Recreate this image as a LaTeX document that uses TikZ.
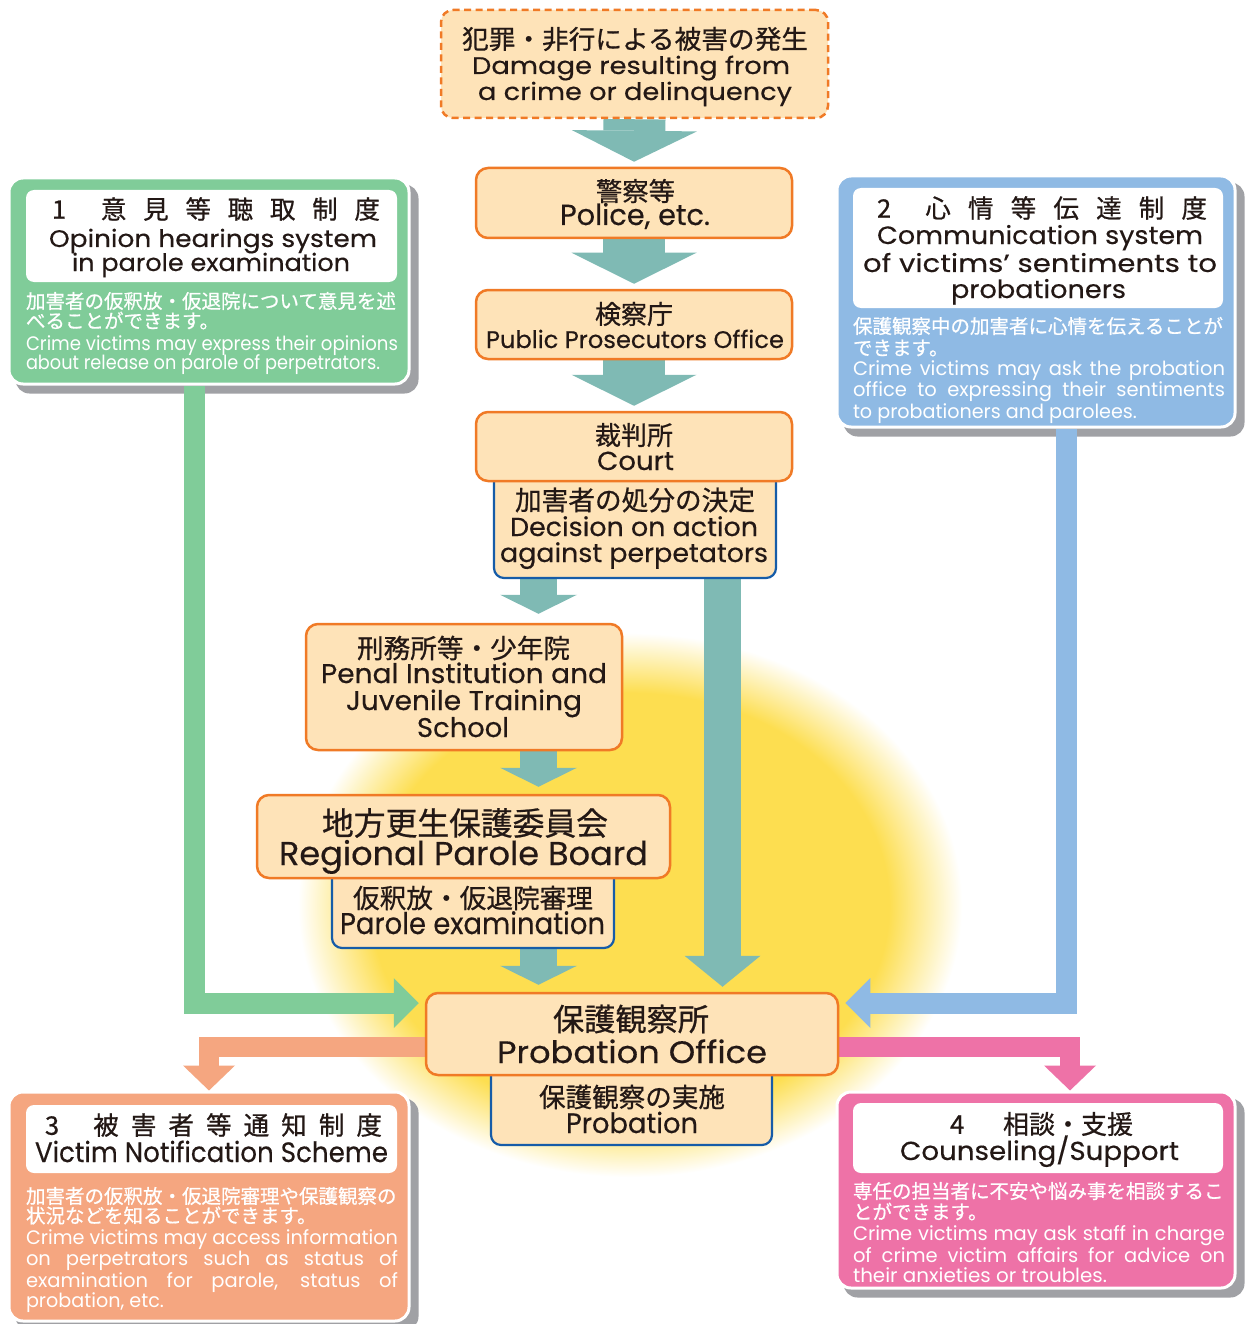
\documentclass[tikz,border=0pt]{standalone}
\usepackage{fontspec}
\usepackage{graphicx}
\setmainfont{Poppins}
\newfontfamily\latb{Poppins}[FakeBold=0.35]
\newfontfamily\jp{Noto Sans CJK JP}[FakeBold=0.7]
\usetikzlibrary{arrows.meta,calc}

\definecolor{peach}{RGB}{254,227,184}
\definecolor{orangeline}{RGB}{240,122,38}
\definecolor{blueline}{RGB}{22,92,168}
\definecolor{tealc}{RGB}{127,186,180}
\definecolor{greenc}{RGB}{128,204,153}
\definecolor{bluec}{RGB}{143,186,228}
\definecolor{salmonc}{RGB}{245,166,128}
\definecolor{pinkc}{RGB}{238,114,167}
\definecolor{shadowc}{RGB}{160,161,165}
\definecolor{ink}{RGB}{35,24,21}
\definecolor{glowc}{RGB}{253,222,80}

% soft yellow halo: the path boundary sits at 25bp of the shading
\pgfdeclareradialshading{glow}{\pgfpoint{0bp}{0bp}}{color(0bp)=(glowc); color(19.5bp)=(glowc); color(25bp)=(white); color(50bp)=(white)}

\pgfdeclarelayer{back}
\pgfdeclarelayer{arrowlayer}
\pgfsetlayers{back,arrowlayer,main}

% font size shortcut
\newcommand\fsz[1]{\fontsize{#1}{#1}\selectfont}
% set a line to an exact width by horizontal scaling
\newsavebox\fitbox
\newlength\fitlen
\newcommand\fitw[2]{\sbox\fitbox{#2}\setlength\fitlen{\wd\fitbox}\pgfmathsetmacro\fitratio{#1/\fitlen}\scalebox{\fitratio}[1]{\usebox\fitbox}}
% justified line: stretch spaces, or squeeze if too long
\newcommand\jline[2]{\sbox\fitbox{#2}\ifdim\wd\fitbox>#1pt\relax\fitw{#1}{#2}\else\makebox[#1pt][s]{#2}\fi}

\tikzset{
  lbl/.style={inner sep=0pt, outer sep=0pt, text=ink, font=\latb},
  wlbl/.style={inner sep=0pt, outer sep=0pt, text=white},
  flowbox/.style={draw=orangeline, fill=peach, line width=2.5pt, rounded corners=12pt, inner sep=0pt},
  subbox/.style={draw=blueline, fill=peach, line width=2.2pt, rounded corners=10pt, inner sep=0pt},
  sidebox/.style={draw=white, line width=3pt, rounded corners=14pt, inner sep=0pt},
  titlebox/.style={fill=white, rounded corners=8pt, inner sep=0pt},
  tealbig/.style={draw=tealc, line width=62pt, -{Triangle[width=125pt,length=31pt,line width=0pt]}},
  tealsmall/.style={draw=tealc, line width=37pt, -{Triangle[width=77pt,length=19pt,line width=0pt]}},
  teallong/.style={draw=tealc, line width=37pt, -{Triangle[width=76pt,length=31pt,line width=0pt]}},
  sidearrow/.style={line width=21pt, -{Triangle[width=50pt,length=25pt,line width=0pt]}},
  lowarrow/.style={line width=20pt, -{Triangle[width=52pt,length=25pt,line width=0pt]}}
}

\begin{document}
\begin{tikzpicture}[x=1pt,y=-1pt]
\useasboundingbox (0,0) rectangle (1245,1324);

% ---------- side boxes ----------
\node[sidebox, fill=greenc, minimum width=400pt, minimum height=206pt] (opinion) at (209,281) {};
\node[titlebox, minimum width=371pt, minimum height=92pt] (opinionT) at (211.5,236) {};
\node[sidebox, fill=bluec, minimum width=398pt, minimum height=251pt] (comm) at (1036,301.5) {};
\node[titlebox, minimum width=370pt, minimum height=120pt] (commT) at (1038,248) {};
\node[sidebox, fill=salmonc, minimum width=400pt, minimum height=229pt] (notify) at (209,1206.5) {};
\node[titlebox, minimum width=371pt, minimum height=68pt] (notifyT) at (211.5,1139) {};
\node[sidebox, fill=pinkc, minimum width=398pt, minimum height=196pt] (support) at (1036,1190) {};
\node[titlebox, minimum width=370pt, minimum height=70pt] (supportT) at (1038,1138) {};

% ---------- flow boxes ----------
\node[flowbox, dash pattern=on 7pt off 4.5pt, minimum width=387pt, minimum height=108pt] (origin) at (634.5,64) {};
\node[flowbox, minimum width=316pt, minimum height=70pt] (police) at (634,203) {};
\node[flowbox, minimum width=316pt, minimum height=69pt] (pros) at (634,324.5) {};
\node[subbox, minimum width=282pt, minimum height=113pt] (decision) at (635,521.5) {};
\node[flowbox, minimum width=316pt, minimum height=69pt] (court) at (634,446.5) {};
\node[flowbox, minimum width=316pt, minimum height=126pt] (penal) at (464,687) {};
\node[subbox, minimum width=282pt, minimum height=88pt] (parole) at (473,904) {};
\node[flowbox, minimum width=413pt, minimum height=83pt] (regional) at (463.5,836.5) {};
\node[subbox, minimum width=281pt, minimum height=85pt] (probsub) at (631.5,1102.5) {};
\node[flowbox, minimum width=412pt, minimum height=82pt] (office) at (632,1034) {};

% ---------- background glow and shadows ----------
\begin{pgfonlayer}{back}
  \fill[white] (0,0) rectangle (1245,1324);
  \path[shading=glow] (630,905) ellipse [x radius=332, y radius=272];
  \foreach \b in {opinion,comm,notify,support}
    \fill[shadowc, rounded corners=14pt] ($(\b.north west)+(8,8)$) rectangle ($(\b.south east)+(8,8)$);
\end{pgfonlayer}

% ---------- block arrows ----------
\begin{pgfonlayer}{arrowlayer}
  \draw[tealbig, shorten >=5pt] (origin.south) -- (police.north);
  \draw[tealbig, shorten >=5pt] (police.south) -- (pros.north);
  \draw[tealbig, shorten >=5pt] (pros.south) -- (court.north);

  \coordinate (dl) at ($(decision.south)+(-96.5,0)$);
  \draw[tealsmall, shorten >=9pt] (dl) -- (dl |- penal.north);
  \coordinate (pl) at ($(penal.south)+(74.5,0)$);
  \draw[tealsmall, shorten >=7pt] (pl) -- (pl |- regional.north);
  \coordinate (ql) at ($(parole.south)+(65.5,0)$);
  \draw[tealsmall, shorten >=7pt] (ql) -- (ql |- office.north);
  \coordinate (dr) at ($(decision.south)+(87.5,0)$);
  \draw[teallong, shorten >=5pt] (dr) -- (dr |- office.north);

  \coordinate (gs) at ($(opinion.south)+(-14.5,0)$);
  \coordinate (gt) at ($(office.west)+(0,-31)$);
  \draw[sidearrow, draw=greenc, shorten >=6pt] (gs) |- (gt);
  \coordinate (bs) at ($(comm.south)+(30,0)$);
  \coordinate (bt) at ($(office.east)+(0,-31)$);
  \draw[sidearrow, draw=bluec, shorten >=6pt] (bs) |- (bt);

  \coordinate (ss) at ($(office.west)+(20,13)$);
  \draw[lowarrow, draw=salmonc] (ss) -| (notify.north);
  \coordinate (ps) at ($(office.east)+(-20,13)$);
  \coordinate (pt) at ($(support.north)+(34,0)$);
  \draw[lowarrow, draw=pinkc] (ps) -| (pt);
\end{pgfonlayer}

% ---------- flow texts ----------
\node[lbl] (o1) at (635,39) {\fitw{346}{\jp\fsz{26}犯罪・非行による被害の発生}};
\node[lbl, anchor=base] (o2) at (631,74) {\fitw{318}{\fsz{24}Damage resulting from}};
\node[lbl, anchor=base] (o3) at (635,100) {\fitw{314}{\fsz{24}a crime or delinquency}};

\node[lbl] (p1) at (635.5,191) {\fitw{79}{\jp\fsz{26}警察等}};
\node[lbl, anchor=base] (p2) at (635,225) {\fitw{150}{\fsz{29}Police, etc.}};

\node[lbl] (q1) at (634,314) {\fitw{78}{\jp\fsz{26}検察庁}};
\node[lbl, anchor=base] (q2) at (635,348) {\fitw{298}{\fsz{24}Public Prosecutors Office}};

\node[lbl] (c1) at (634,435) {\fitw{78}{\jp\fsz{26}裁判所}};
\node[lbl, anchor=base] (c2) at (635.5,470) {\fitw{77}{\fsz{26}Court}};

\node[lbl] (d1) at (635,500) {\fitw{240}{\jp\fsz{27}加害者の処分の決定}};
\node[lbl, anchor=base] (d2) at (634,536) {\fitw{248}{\fsz{26}Decision on action}};
\node[lbl, anchor=base] (d3) at (634,562) {\fitw{268}{\fsz{26}against perpetators}};

\node[lbl] (e1) at (463.5,648) {\fitw{213}{\jp\fsz{26.5}刑務所等・少年院}};
\node[lbl, anchor=base] (e2) at (464,683) {\fitw{286}{\fsz{27}Penal Institution and}};
\node[lbl, anchor=base] (e3) at (464,710) {\fitw{236}{\fsz{27}Juvenile Training}};
\node[lbl, anchor=base] (e4) at (463,737) {\fitw{92}{\fsz{27}School}};

\node[lbl] (r1) at (465,823) {\fitw{286}{\jp\fsz{32}地方更生保護委員会}};
\node[lbl, anchor=base] (r2) at (463.5,865) {\fitw{369}{\fsz{33}Regional Parole Board}};

\node[lbl] (s1) at (473,898) {\fitw{240}{\jp\fsz{26.5}仮釈放・仮退院審理}};
\node[lbl, anchor=base] (s2) at (472.5,934) {\fitw{265}{\fsz{30}Parole examination}};

\node[lbl] (f1) at (631,1019) {\fitw{156}{\jp\fsz{31}保護観察所}};
\node[lbl, anchor=base] (f2) at (632,1063) {\fitw{270}{\fsz{31}Probation Office}};

\node[lbl] (u1) at (632,1097) {\fitw{186}{\jp\fsz{26.5}保護観察の実施}};
\node[lbl, anchor=base] (u2) at (632,1133) {\fitw{132}{\fsz{28}Probation}};

% ---------- 1 opinion hearings ----------
\node[lbl, anchor=west] (g0) at (52,209) {\jp\fsz{25.5}\makebox[328pt]{1\hspace{18pt}\hfill 意\hfill 見\hfill 等\hfill 聴\hfill 取\hfill 制\hfill 度}};
\node[lbl, anchor=base] (g1) at (213,247) {\fitw{328}{\fsz{24}Opinion hearings system}};
\node[lbl, anchor=base] (g2) at (211,271) {\fitw{278}{\fsz{24}in parole examination}};
\node[wlbl, anchor=west] (g3) at (26,301) {\jp\fsz{19.5}加害者の仮釈放・仮退院について意見を述};
\node[wlbl, anchor=west] (g4) at (26,320.5) {\jp\fsz{19.5}べることができます。};
\node[wlbl, anchor=base west] (g5) at (26,350) {\jline{372}{\fsz{19.5}Crime victims may express their opinions}};
\node[wlbl, anchor=base west] (g6) at (26,369) {\fitw{354}{\fsz{19.5}about release on parole of perpetrators.}};

% ---------- 2 communication of sentiments ----------
\node[lbl, anchor=west] (h0) at (877,208) {\jp\fsz{25.5}\makebox[330pt]{2\hspace{17pt}\hfill 心\hfill 情\hfill 等\hfill 伝\hfill 達\hfill 制\hfill 度}};
\node[lbl, anchor=base] (h1) at (1040,244) {\fitw{326}{\fsz{25}Communication system}};
\node[lbl, anchor=base] (h2) at (1040,272) {\fitw{354}{\fsz{25}of victims’ sentiments to}};
\node[lbl, anchor=base] (h3) at (1038.5,298) {\fitw{175}{\fsz{25}probationers}};
\node[wlbl, anchor=west] (h4) at (853,326) {\jp\fsz{19.5}保護観察中の加害者に心情を伝えることが};
\node[wlbl, anchor=west] (h5) at (853,348) {\jp\fsz{19.5}できます。};
\node[wlbl, anchor=base west] (h6) at (853,375) {\jline{372}{\fsz{19.5}Crime victims may ask the probation}};
\node[wlbl, anchor=base west] (h7) at (853,396) {\jline{372}{\fsz{19.5}office to expressing their sentiments}};
\node[wlbl, anchor=base west] (h8) at (853,418) {\fitw{284}{\fsz{19.5}to probationers and parolees.}};

% ---------- 3 notification ----------
\node[lbl, anchor=west] (k0) at (45,1125) {\jp\fsz{25.5}\makebox[337pt]{3\hspace{22pt}\hfill 被\hfill 害\hfill 者\hfill 等\hfill 通\hfill 知\hfill 制\hfill 度}};
\node[lbl, anchor=base] (k1) at (211.5,1162) {\fitw{353}{\fsz{28}Victim Notification Scheme}};
\node[wlbl, anchor=west] (k2) at (26,1196) {\jp\fsz{19.5}加害者の仮釈放・仮退院審理や保護観察の};
\node[wlbl, anchor=west] (k3) at (26,1215.5) {\jp\fsz{19.5}状況などを知ることができます。};
\node[wlbl, anchor=base west] (k4) at (26,1244) {\jline{372}{\fsz{19.5}Crime victims may access information}};
\node[wlbl, anchor=base west] (k5) at (26,1265) {\jline{372}{\fsz{19.5}on perpetrators such as status of}};
\node[wlbl, anchor=base west] (k6) at (26,1287) {\jline{372}{\fsz{19.5}examination for parole, status of}};
\node[wlbl, anchor=base west] (k7) at (26,1307) {\fitw{138}{\fsz{19.5}probation, etc.}};

% ---------- 4 counseling ----------
\node[lbl, anchor=west] (m0) at (950,1124) {\jp\fsz{26}\makebox[183pt]{4\hfill 相談・支援}};
\node[lbl, anchor=base] (m1) at (1039.5,1160) {\fitw{279}{\fsz{26}Counseling/Support}};
\node[wlbl, anchor=west] (m2) at (853,1191) {\jp\fsz{19.5}専任の担当者に不安や悩み事を相談するこ};
\node[wlbl, anchor=west] (m3) at (853,1211.5) {\jp\fsz{19.5}とができます。};
\node[wlbl, anchor=base west] (m4) at (853,1240) {\jline{372}{\fsz{19.5}Crime victims may ask staff in charge}};
\node[wlbl, anchor=base west] (m5) at (853,1262) {\jline{372}{\fsz{19.5}of crime victim affairs for advice on}};
\node[wlbl, anchor=base west] (m6) at (853,1282) {\fitw{254}{\fsz{19.5}their anxieties or troubles.}};
\end{tikzpicture}
\end{document}
